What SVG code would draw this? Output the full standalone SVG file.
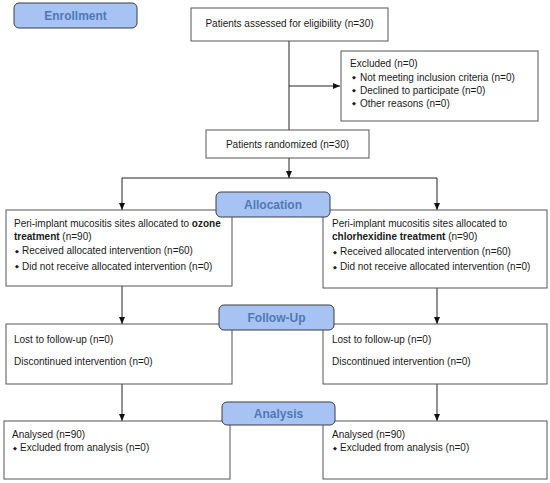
<svg xmlns="http://www.w3.org/2000/svg" width="550" height="483" viewBox="0 0 550 483">
<defs>
<marker id="ah" markerWidth="7" markerHeight="6" refX="7" refY="3" orient="auto" markerUnits="userSpaceOnUse">
<path d="M0,0 L7,3 L0,6 Z" fill="#111"/>
</marker>
<style>
.box{fill:#fff;stroke:#555;stroke-width:1}
.lab{fill:#a6c3f3;stroke:#3c3c3c;stroke-width:1}
.lt{font-family:"Liberation Sans",Arial,sans-serif;font-size:12px;font-weight:bold;fill:#5079b4;text-anchor:middle}
.t{font-family:"Liberation Sans",Arial,sans-serif;font-size:10px;fill:#1a1a1a}
.b{font-weight:bold}
.bu{font-family:"DejaVu Sans",sans-serif;font-size:5px;fill:#1a1a1a}
.c{stroke:#222;stroke-width:1;fill:none}
</style>
</defs>
<rect width="550" height="483" fill="#fff"/>
<g id="connectors">
<path class="c" d="M289 41 V130"/>
<path class="c" d="M289 86 H340" marker-end="url(#ah)"/>
<path class="c" d="M289 158 V178" marker-end="url(#ah)"/>
<path class="c" d="M122 178 H437"/>
<path class="c" d="M122 178 V210" marker-end="url(#ah)"/>
<path class="c" d="M437 178 V210" marker-end="url(#ah)"/>
<path class="c" d="M122 286 V324" marker-end="url(#ah)"/>
<path class="c" d="M437 288 V324" marker-end="url(#ah)"/>
<path class="c" d="M122 384 V421" marker-end="url(#ah)"/>
<path class="c" d="M437 384 V421" marker-end="url(#ah)"/>
</g>
<g id="enrollment"><rect class="lab" x="14" y="3" width="123" height="25" rx="5"/><text class="lt" x="75.5" y="20">Enrollment</text></g>
<g id="assessed"><rect class="box" x="191" y="8" width="197" height="33"/><text class="t" x="289.5" y="27" text-anchor="middle">Patients assessed for eligibility (n=30)</text></g>
<g id="excluded"><rect class="box" x="341" y="51" width="197" height="70"/>
<text class="t" x="350" y="67">Excluded (n=0)</text>
<text class="bu" x="352" y="79">◆</text><text class="t" x="360" y="80.5">Not meeting inclusion criteria (n=0)</text>
<text class="bu" x="352" y="92">◆</text><text class="t" x="360" y="93.5">Declined to participate (n=0)</text>
<text class="bu" x="352" y="105">◆</text><text class="t" x="360" y="106.5">Other reasons (n=0)</text>
</g>
<g id="randomized"><rect class="box" x="206" y="130" width="163" height="28"/><text class="t" x="287.5" y="147.5" text-anchor="middle">Patients randomized (n=30)</text></g>
<g id="alloc-left"><rect class="box" x="6" y="210" width="226" height="76"/>
<text class="t" x="14" y="226.5">Peri-implant mucositis sites allocated to <tspan class="b">ozone</tspan></text>
<text class="t" x="14" y="239.5"><tspan class="b">treatment</tspan> (n=90)</text>
<text class="bu" x="15" y="252.5">◆</text><text class="t" x="22" y="254">Received allocated intervention (n=60)</text>
<text class="bu" x="15" y="268">◆</text><text class="t" x="22" y="269.5">Did not receive allocated intervention (n=0)</text>
</g>
<g id="alloc-right"><rect class="box" x="323" y="210" width="224" height="78"/>
<text class="t" x="332" y="227">Peri-implant mucositis sites allocated to</text>
<text class="t" x="332" y="240"><tspan class="b">chlorhexidine treatment</tspan> (n=90)</text>
<text class="bu" x="333" y="253.5">◆</text><text class="t" x="340" y="255">Received allocated intervention (n=60)</text>
<text class="bu" x="333" y="268.5">◆</text><text class="t" x="340" y="270">Did not receive allocated intervention (n=0)</text>
</g>
<g id="allocation"><rect class="lab" x="216" y="192" width="114" height="25" rx="5"/><text class="lt" x="273" y="209">Allocation</text></g>
<g id="follow-left"><rect class="box" x="6" y="324" width="226" height="60"/>
<text class="t" x="14" y="343">Lost to follow-up (n=0)</text>
<text class="t" x="14" y="365">Discontinued intervention (n=0)</text>
</g>
<g id="follow-right"><rect class="box" x="323" y="324" width="224" height="60"/>
<text class="t" x="332" y="343">Lost to follow-up (n=0)</text>
<text class="t" x="332" y="365">Discontinued intervention (n=0)</text>
</g>
<g id="followup"><rect class="lab" x="219" y="305" width="115" height="25" rx="5"/><text class="lt" x="276.5" y="322">Follow-Up</text></g>
<g id="analysis-left"><rect class="box" x="4" y="421" width="226" height="58"/>
<text class="t" x="12" y="438">Analysed (n=90)</text>
<text class="bu" x="13" y="449.5">◆</text><text class="t" x="20" y="451">Excluded from analysis (n=0)</text>
</g>
<g id="analysis-right"><rect class="box" x="323" y="421" width="224" height="58"/>
<text class="t" x="332" y="438">Analysed (n=90)</text>
<text class="bu" x="333" y="449.5">◆</text><text class="t" x="340" y="451">Excluded from analysis (n=0)</text>
</g>
<g id="analysis"><rect class="lab" x="222" y="402" width="113" height="23" rx="5"/><text class="lt" x="278.5" y="418">Analysis</text></g>
</svg>
